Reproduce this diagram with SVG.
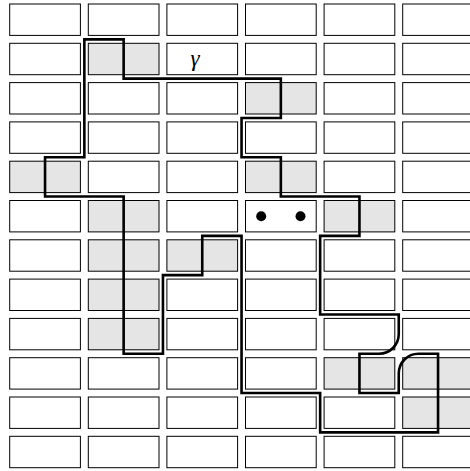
<svg xmlns="http://www.w3.org/2000/svg" width="470" height="471" viewBox="0 0 470 471">
<style>
.cell{fill:#ffffff;stroke:#000;stroke-width:1}
.sh{fill:#e5e5e5}
.gamma{fill:none;stroke:#000;stroke-width:2.6;stroke-linejoin:miter}
.lbl{font-family:"Liberation Serif","DejaVu Serif",serif;font-style:italic;font-size:23px;fill:#000}
</style>
<rect width="470" height="471" fill="#fff"/>
<g id="grid">
<g id="row0">
<rect class="cell" x="9.7" y="4" width="70.7" height="31.4"/><rect class="cell" x="88.3" y="4" width="70.7" height="31.4"/><rect class="cell" x="166.9" y="4" width="70.7" height="31.4"/><rect class="cell" x="245.5" y="4" width="70.7" height="31.4"/><rect class="cell" x="324.1" y="4" width="70.7" height="31.4"/><rect class="cell" x="402.7" y="4" width="70.7" height="31.4"/>
</g>
<g id="row1">
<rect class="cell" x="9.7" y="43.3" width="70.7" height="31.4"/><rect class="cell sh" x="88.3" y="43.3" width="70.7" height="31.4"/><rect class="cell" x="166.9" y="43.3" width="70.7" height="31.4"/><rect class="cell" x="245.5" y="43.3" width="70.7" height="31.4"/><rect class="cell" x="324.1" y="43.3" width="70.7" height="31.4"/><rect class="cell" x="402.7" y="43.3" width="70.7" height="31.4"/>
</g>
<g id="row2">
<rect class="cell" x="9.7" y="82.6" width="70.7" height="31.4"/><rect class="cell" x="88.3" y="82.6" width="70.7" height="31.4"/><rect class="cell" x="166.9" y="82.6" width="70.7" height="31.4"/><rect class="cell sh" x="245.5" y="82.6" width="70.7" height="31.4"/><rect class="cell" x="324.1" y="82.6" width="70.7" height="31.4"/><rect class="cell" x="402.7" y="82.6" width="70.7" height="31.4"/>
</g>
<g id="row3">
<rect class="cell" x="9.7" y="121.9" width="70.7" height="31.4"/><rect class="cell" x="88.3" y="121.9" width="70.7" height="31.4"/><rect class="cell" x="166.9" y="121.9" width="70.7" height="31.4"/><rect class="cell" x="245.5" y="121.9" width="70.7" height="31.4"/><rect class="cell" x="324.1" y="121.9" width="70.7" height="31.4"/><rect class="cell" x="402.7" y="121.9" width="70.7" height="31.4"/>
</g>
<g id="row4">
<rect class="cell sh" x="9.7" y="161.2" width="70.7" height="31.4"/><rect class="cell" x="88.3" y="161.2" width="70.7" height="31.4"/><rect class="cell" x="166.9" y="161.2" width="70.7" height="31.4"/><rect class="cell sh" x="245.5" y="161.2" width="70.7" height="31.4"/><rect class="cell" x="324.1" y="161.2" width="70.7" height="31.4"/><rect class="cell" x="402.7" y="161.2" width="70.7" height="31.4"/>
</g>
<g id="row5">
<rect class="cell" x="9.7" y="200.5" width="70.7" height="31.4"/><rect class="cell sh" x="88.3" y="200.5" width="70.7" height="31.4"/><rect class="cell" x="166.9" y="200.5" width="70.7" height="31.4"/><rect class="cell" x="245.5" y="200.5" width="70.7" height="31.4"/><rect class="cell sh" x="324.1" y="200.5" width="70.7" height="31.4"/><rect class="cell" x="402.7" y="200.5" width="70.7" height="31.4"/>
</g>
<g id="row6">
<rect class="cell" x="9.7" y="239.8" width="70.7" height="31.4"/><rect class="cell sh" x="88.3" y="239.8" width="70.7" height="31.4"/><rect class="cell sh" x="166.9" y="239.8" width="70.7" height="31.4"/><rect class="cell" x="245.5" y="239.8" width="70.7" height="31.4"/><rect class="cell" x="324.1" y="239.8" width="70.7" height="31.4"/><rect class="cell" x="402.7" y="239.8" width="70.7" height="31.4"/>
</g>
<g id="row7">
<rect class="cell" x="9.7" y="279.1" width="70.7" height="31.4"/><rect class="cell sh" x="88.3" y="279.1" width="70.7" height="31.4"/><rect class="cell" x="166.9" y="279.1" width="70.7" height="31.4"/><rect class="cell" x="245.5" y="279.1" width="70.7" height="31.4"/><rect class="cell" x="324.1" y="279.1" width="70.7" height="31.4"/><rect class="cell" x="402.7" y="279.1" width="70.7" height="31.4"/>
</g>
<g id="row8">
<rect class="cell" x="9.7" y="318.4" width="70.7" height="31.4"/><rect class="cell sh" x="88.3" y="318.4" width="70.7" height="31.4"/><rect class="cell" x="166.9" y="318.4" width="70.7" height="31.4"/><rect class="cell" x="245.5" y="318.4" width="70.7" height="31.4"/><rect class="cell" x="324.1" y="318.4" width="70.7" height="31.4"/><rect class="cell" x="402.7" y="318.4" width="70.7" height="31.4"/>
</g>
<g id="row9">
<rect class="cell" x="9.7" y="357.7" width="70.7" height="31.4"/><rect class="cell" x="88.3" y="357.7" width="70.7" height="31.4"/><rect class="cell" x="166.9" y="357.7" width="70.7" height="31.4"/><rect class="cell" x="245.5" y="357.7" width="70.7" height="31.4"/><rect class="cell sh" x="324.1" y="357.7" width="70.7" height="31.4"/><rect class="cell sh" x="402.7" y="357.7" width="70.7" height="31.4"/>
</g>
<g id="row10">
<rect class="cell" x="9.7" y="397" width="70.7" height="31.4"/><rect class="cell" x="88.3" y="397" width="70.7" height="31.4"/><rect class="cell" x="166.9" y="397" width="70.7" height="31.4"/><rect class="cell" x="245.5" y="397" width="70.7" height="31.4"/><rect class="cell" x="324.1" y="397" width="70.7" height="31.4"/><rect class="cell sh" x="402.7" y="397" width="70.7" height="31.4"/>
</g>
<g id="row11">
<rect class="cell" x="9.7" y="436.3" width="70.7" height="31.4"/><rect class="cell" x="88.3" y="436.3" width="70.7" height="31.4"/><rect class="cell" x="166.9" y="436.3" width="70.7" height="31.4"/><rect class="cell" x="245.5" y="436.3" width="70.7" height="31.4"/><rect class="cell" x="324.1" y="436.3" width="70.7" height="31.4"/><rect class="cell" x="402.7" y="436.3" width="70.7" height="31.4"/>
</g>
</g>
<g id="dots">
<circle cx="261.2" cy="216.2" r="5"/>
<circle cx="300.5" cy="216.2" r="5"/>
</g>
<g id="connectors">
<path id="gamma-curve" class="gamma" d="M84.35,39.35 H123.65 V78.65 H280.85 V117.95 H241.55 V157.25 H280.85 V196.55 H359.45 V235.85 H320.15 V314.45 H398.75 V334.1 A19.65,19.65 0 0 1 379.1,353.75 H359.45 V393.05 H398.75 V373.4 A19.65,19.65 0 0 1 418.4,353.75 H438.05 V432.35 H320.15 V393.05 H241.55 V235.85 H202.25 V275.15 H162.95 V353.75 H123.65 V196.55 H45.05 V157.25 H84.35 Z"/>
</g>
<g id="label-gamma">
<text class="lbl" x="195" y="66" text-anchor="middle">γ</text>
</g>
</svg>
